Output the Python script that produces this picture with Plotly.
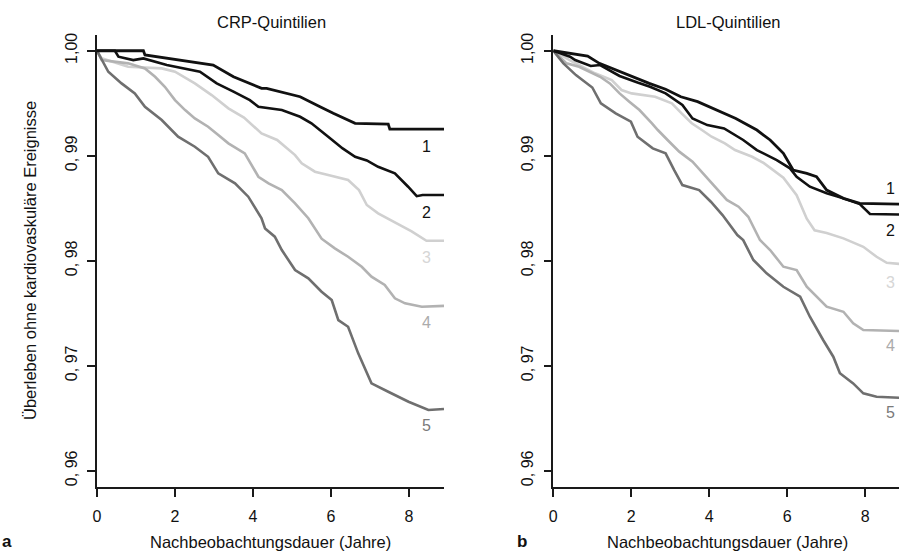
import plotly.graph_objects as go

# ---------------- data ----------------
quintiles = ["1", "2", "3", "4", "5"]
x_ticks = [0, 2, 4, 6, 8]
y_ticks = [1.00, 0.99, 0.98, 0.97, 0.96]
y_ticktext = ["1,00", "0, 99", "0, 98", "0, 97", "0, 96"]

# CRP quintiles (years, survival)
crp_t1 = [0, 1.19, 1.23, 2.13, 2.98, 3.5, 4.22, 4.35, 5.21, 5.72, 6.06, 6.62, 7.47, 7.51, 8.9]
crp_v1 = [1.0, 1.0, 0.9996, 0.99911, 0.99864, 0.99752, 0.99642, 0.99642, 0.99562, 0.99467, 0.99404, 0.99309, 0.99302, 0.99254, 0.99254]
crp_t2 = [0, 0.46, 0.55, 0.93, 1.19, 1.79, 2.64, 3.07, 3.5, 3.92, 4.14, 4.74, 5.21, 5.5, 5.93, 6.3, 6.62, 6.92, 7.21, 7.64, 7.98, 8.2, 8.35, 8.9]
crp_v2 = [1.0, 1.0, 0.99943, 0.99911, 0.99927, 0.99864, 0.998, 0.99689, 0.9961, 0.9953, 0.99467, 0.99435, 0.99371, 0.99309, 0.99181, 0.9907, 0.9899, 0.98955, 0.98895, 0.98832, 0.98705, 0.98615, 0.98626, 0.98626]
crp_t3 = [0, 0.12, 0.8, 1.66, 2.0, 2.51, 2.94, 3.37, 3.77, 4.22, 4.62, 5.08, 5.25, 5.59, 5.93, 6.44, 6.72, 6.92, 7.21, 7.7, 8.07, 8.45, 8.9]
crp_v3 = [1.0, 0.99928, 0.99848, 0.99832, 0.998, 0.99689, 0.99578, 0.99451, 0.99364, 0.99213, 0.9915, 0.99006, 0.98928, 0.98848, 0.98816, 0.98769, 0.98673, 0.98531, 0.98451, 0.98356, 0.9828, 0.9819, 0.9819]
crp_t4 = [0, 0.12, 0.8, 1.23, 1.49, 1.74, 2.0, 2.26, 2.51, 2.85, 3.11, 3.37, 3.79, 3.97, 4.14, 4.4, 4.74, 5.08, 5.42, 5.76, 6.1, 6.44, 6.79, 7.04, 7.38, 7.64, 7.9, 8.33, 8.9]
crp_v4 = [1.0, 0.99911, 0.9988, 0.99832, 0.99752, 0.99657, 0.9953, 0.99435, 0.99356, 0.99276, 0.99197, 0.99118, 0.99023, 0.98911, 0.988, 0.98737, 0.98673, 0.98547, 0.98405, 0.9821, 0.98118, 0.98038, 0.97943, 0.97848, 0.97769, 0.97642, 0.97594, 0.97562, 0.9757]
crp_t5 = [0, 0.08, 0.29, 0.63, 0.97, 1.23, 1.66, 2.08, 2.51, 2.85, 3.11, 3.54, 3.88, 4.22, 4.31, 4.56, 4.74, 5.08, 5.42, 5.76, 6.02, 6.19, 6.44, 6.7, 7.04, 7.47, 7.99, 8.5, 8.9]
crp_v5 = [1.0, 0.99943, 0.998, 0.99689, 0.99594, 0.99467, 0.9934, 0.99181, 0.99086, 0.9899, 0.98832, 0.98737, 0.9861, 0.98405, 0.98308, 0.98229, 0.98102, 0.97911, 0.97832, 0.97705, 0.97626, 0.97435, 0.97371, 0.97118, 0.96832, 0.96752, 0.96657, 0.96578, 0.96588]

# LDL quintiles (years, survival)
ldl_t1 = [0, 0.88, 1.18, 1.6, 2.03, 2.46, 2.88, 3.27, 3.7, 4.13, 4.68, 5.22, 5.56, 5.9, 6.15, 6.5, 6.75, 7.01, 7.44, 7.86, 8.87]
ldl_v1 = [1.0, 0.9995, 0.9988, 0.99816, 0.99752, 0.99689, 0.99634, 0.99562, 0.99515, 0.99443, 0.99355, 0.99245, 0.9915, 0.99023, 0.98864, 0.98832, 0.988, 0.98673, 0.98594, 0.98547, 0.9854]
ldl_t2 = [0, 0.43, 0.56, 0.96, 1.2, 1.7, 2.16, 2.48, 2.88, 3.31, 3.57, 3.95, 4.38, 4.87, 5.22, 5.73, 6.07, 6.24, 6.58, 7.01, 7.44, 7.86, 8.12, 8.87]
ldl_v2 = [1.0, 0.99943, 0.99911, 0.99855, 0.99864, 0.9976, 0.99697, 0.99657, 0.99594, 0.99483, 0.99355, 0.99292, 0.9926, 0.9915, 0.99054, 0.98959, 0.9888, 0.988, 0.98705, 0.98642, 0.98594, 0.9854, 0.98445, 0.9844]
ldl_t3 = [0, 0.5, 1.07, 1.5, 1.75, 2.01, 2.61, 3.04, 3.29, 3.55, 3.81, 4.06, 4.4, 4.66, 5.1, 5.4, 5.9, 6.24, 6.5, 6.7, 7.01, 7.44, 7.95, 8.29, 8.55, 8.87]
ldl_v3 = [1.0, 0.99895, 0.99785, 0.99721, 0.99626, 0.99594, 0.99562, 0.99499, 0.99404, 0.99309, 0.99245, 0.99181, 0.99118, 0.99054, 0.9899, 0.9893, 0.9879, 0.98625, 0.984, 0.9829, 0.98265, 0.98213, 0.98133, 0.98038, 0.9798, 0.9797]
ldl_t4 = [0, 0.34, 0.66, 1.2, 1.45, 1.7, 1.95, 2.21, 2.53, 2.68, 2.93, 3.23, 3.57, 3.8, 4.12, 4.45, 4.75, 5.0, 5.3, 5.56, 5.9, 6.24, 6.5, 6.75, 7.01, 7.44, 7.69, 7.95, 8.87]
ldl_v4 = [1.0, 0.9988, 0.99848, 0.99752, 0.99689, 0.99594, 0.99515, 0.99435, 0.99309, 0.99245, 0.9915, 0.99039, 0.98944, 0.98848, 0.98721, 0.98579, 0.98515, 0.98419, 0.98197, 0.98102, 0.97943, 0.97911, 0.97752, 0.97657, 0.97562, 0.97514, 0.97404, 0.9734, 0.9733]
ldl_t5 = [0, 0.1, 0.26, 0.58, 1.0, 1.22, 1.6, 1.99, 2.16, 2.55, 2.88, 3.1, 3.31, 3.74, 4.04, 4.34, 4.72, 4.87, 5.13, 5.47, 5.9, 6.33, 6.58, 6.92, 7.18, 7.35, 7.69, 7.95, 8.29, 8.87]
ldl_v5 = [1.0, 0.9995, 0.9988, 0.99768, 0.9965, 0.99499, 0.99403, 0.99325, 0.99181, 0.9907, 0.99023, 0.98864, 0.98721, 0.98673, 0.98562, 0.98435, 0.98245, 0.98197, 0.98007, 0.9788, 0.97752, 0.97657, 0.97467, 0.97245, 0.97086, 0.96928, 0.96832, 0.96737, 0.96705, 0.96695]

crp_t = [crp_t1, crp_t2, crp_t3, crp_t4, crp_t5]
crp_v = [crp_v1, crp_v2, crp_v3, crp_v4, crp_v5]
ldl_t = [ldl_t1, ldl_t2, ldl_t3, ldl_t4, ldl_t5]
ldl_v = [ldl_v1, ldl_v2, ldl_v3, ldl_v4, ldl_v5]

# label anchor positions (data coords) for the quintile numbers
crp_label_t = 8.46
crp_label_v = [0.99092, 0.98464, 0.98035, 0.97416, 0.96435]
ldl_label_t = 8.65
ldl_label_v = [0.98692, 0.98292, 0.97797, 0.97197, 0.96550]

# ---------------- styling ----------------
FONT = "Liberation Sans Narrow, Liberation Sans, Arial, sans-serif"
TXT = "#111111"
line_colors = ["#111111", "#111111", "#d0d0d0", "#b2b2b2", "#6f6f6f"]
label_colors = ["#111111", "#111111", "#d6d6d6", "#ababab", "#7a7a7a"]
line_widths = [2.8, 2.6, 2.6, 2.6, 2.6]
draw_order = [2, 3, 4, 1, 0]

fig = go.Figure()
for i in draw_order:
    fig.add_trace(go.Scatter(x=crp_t[i], y=crp_v[i], mode="lines",
                             line=dict(color=line_colors[i], width=line_widths[i]),
                             xaxis="x", yaxis="y", showlegend=False, hoverinfo="skip"))
    fig.add_trace(go.Scatter(x=ldl_t[i], y=ldl_v[i], mode="lines",
                             line=dict(color=line_colors[i], width=line_widths[i]),
                             xaxis="x2", yaxis="y2", showlegend=False, hoverinfo="skip"))

W, H = 899, 552
ydom = [1 - 487 / H, 1 - 35 / H]
y_range = [0.95845, 1.0015]

axis_common = dict(showgrid=False, zeroline=False, showline=True, linecolor="#1a1a1a",
                   linewidth=1.6, ticks="outside", ticklen=8, tickwidth=1.6, tickcolor="#1a1a1a",
                   tickfont=dict(family=FONT, size=16, color=TXT))

fig.update_layout(
    width=W, height=H,
    margin=dict(l=0, r=0, t=0, b=0, autoexpand=False),
    paper_bgcolor="white", plot_bgcolor="white",
    xaxis=dict(domain=[97 / W, 444 / W], range=[0, 8.9], tickvals=x_ticks, anchor="y",
               ticklabelstandoff=6, **axis_common),
    yaxis=dict(domain=ydom, range=y_range, tickvals=y_ticks, ticktext=y_ticktext,
               tickangle=-90, anchor="x", ticklabelstandoff=4, **axis_common),
    xaxis2=dict(domain=[553.3 / W, 1.0], range=[0, 8.865], tickvals=x_ticks, anchor="y2",
                ticklabelstandoff=6, **axis_common),
    yaxis2=dict(domain=ydom, range=y_range, tickvals=y_ticks, ticktext=y_ticktext,
                tickangle=-90, anchor="x2", ticklabelstandoff=4, **axis_common),
)


def paper_text(text, px, py, size=16.5, angle=0):
    return dict(text=text, x=px / W, y=1 - py / H, xref="paper", yref="paper",
                xanchor="center", yanchor="middle", textangle=angle, showarrow=False,
                font=dict(family=FONT, size=size, color=TXT))


ann = [
    paper_text("CRP-Quintilien", 271, 22),
    paper_text("LDL-Quintilien", 728, 22),
    paper_text("Überleben ohne kardiovaskuläre Ereignisse", 30, 261, angle=-90),
    paper_text("Nachbeobachtungsdauer (Jahre)", 270, 542),
    paper_text("Nachbeobachtungsdauer (Jahre)", 727, 542),
    paper_text("<b>a</b>", 7, 541, size=17),
    paper_text("<b>b</b>", 522, 541, size=17),
]

for i, q in enumerate(quintiles):
    ann.append(dict(text=q, x=crp_label_t, y=crp_label_v[i], xref="x", yref="y", showarrow=False,
                    xanchor="center", yanchor="middle",
                    font=dict(family=FONT, size=16, color=label_colors[i])))
    ann.append(dict(text=q, x=ldl_label_t, y=ldl_label_v[i], xref="x2", yref="y2", showarrow=False,
                    xanchor="center", yanchor="middle",
                    font=dict(family=FONT, size=16, color=label_colors[i])))

fig.update_layout(annotations=ann)

fig.write_html("out.html",
               config={"displayModeBar": False},
               post_script="document.body.style.margin='0';document.body.style.padding='0';"
                           "document.body.style.overflow='hidden';")
